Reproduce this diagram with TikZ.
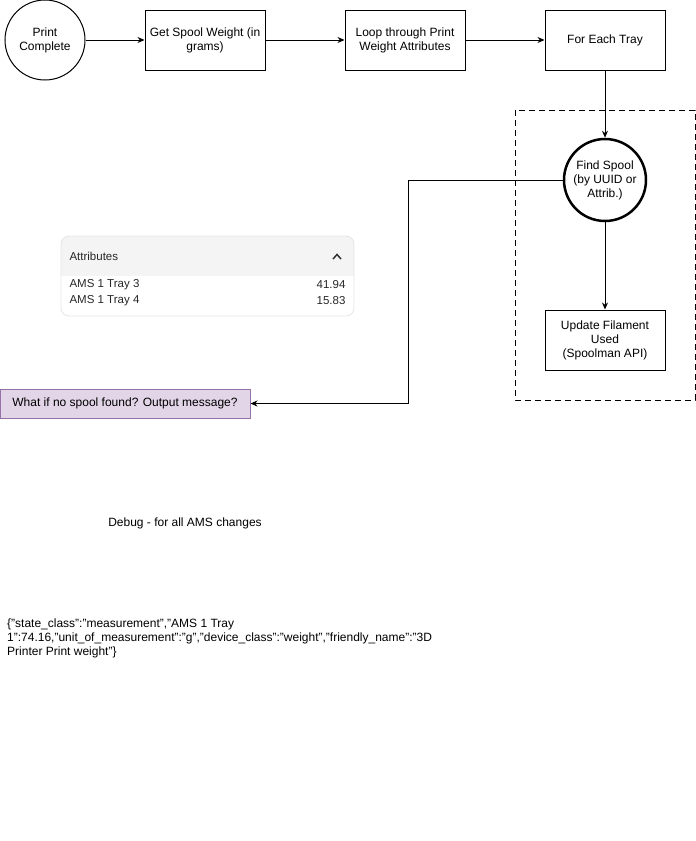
\documentclass[tikz,border=0pt]{standalone}
\usepackage{fontspec}
\setmainfont{Liberation Sans}
\usepackage{tikz}
\usetikzlibrary{arrows.meta, shapes, positioning}
\definecolor{notefill}{HTML}{E1D5E7}
\definecolor{notedraw}{HTML}{9673A6}

\begin{document}
\begin{tikzpicture}[x=1pt, y=-1pt,
	every node/.style={font=\fontsize{12}{14}\selectfont},
	stepbox/.style={draw, line width=1pt, minimum width=120pt, minimum height=60pt, inner sep=0pt, align=center},
	roundstep/.style={draw, circle, line width=1pt, minimum size=80pt, inner sep=0pt, align=center},
	attrtext/.style={font=\fontsize{11.5}{13}\selectfont, text=black!85},
	flow/.style={-{Stealth[length=7pt,width=6pt]}, line width=1pt},
	]
	\useasboundingbox (0,0) rectangle (696,841);
	% top row
	\node[roundstep] (printdone) at (45,40) {Print\\Complete};
	\node[stepbox] (getweight) at (205,40) {Get Spool Weight (in\\grams)};
	\node[stepbox] (looptray) at (405,40) {Loop through Print\\Weight Attributes};
	\node[stepbox] (eachtray) at (605,40) {For Each Tray};
	% per tray group
	\draw[line width=1pt, dash pattern=on 6pt off 4pt] (515,110) rectangle (695,400);
	\node[roundstep, line width=2.5pt, minimum size=82pt] (findspool) at (605,180) {Find Spool\\(by UUID or\\Attrib.)};
	\node[stepbox] (updateused) at (605,340) {Update Filament\\Used\\(Spoolman API)};
	\node[draw=notedraw, fill=notefill, line width=1pt, minimum width=250pt, minimum height=29pt, inner sep=0pt] (nospool) at (125,403.5) {What if no spool found? Output message?};
	\draw[flow] (printdone) -- (getweight);
	\draw[flow] (getweight) -- (looptray);
	\draw[flow] (looptray) -- (eachtray);
	\draw[flow] (eachtray) -- (findspool);
	\draw[flow] (findspool) -- (updateused);
	\draw[flow] (findspool.west) -- (408,180) |- (nospool.east);
	% attributes panel
	\begin{scope}
		\clip[rounded corners=8pt] (61,236) rectangle (354,316);
		\fill[gray!9] (61,236) rectangle (354,276);
	\end{scope}
	\draw[gray!20, line width=0.8pt, rounded corners=8pt] (61,236) rectangle (354,316);
	\node[anchor=west, attrtext] (attrtitle) at (66,256) {Attributes};
	\draw[line width=1.5pt, black!80] (333,259) -- (337,254.5) -- (341,259);
	\node[anchor=west, attrtext] (trayc) at (66,285) {AMS 1 Tray 3};
	\node[anchor=east, attrtext] (weightc) at (349,285) {41.94};
	\node[anchor=west, attrtext] (trayd) at (66,301) {AMS 1 Tray 4};
	\node[anchor=east, attrtext] (weightd) at (349,301) {15.83};
	% debug notes
	\node (debugnote) at (185,523) {Debug - for all AMS changes};
	\node[anchor=north west, align=left, inner sep=0pt] (jsonnote) at (7,619) {\{"state\_class":"measurement","AMS 1 Tray\\1":74.16,"unit\_of\_measurement":"g","device\_class":"weight","friendly\_name":"3D\\Printer Print weight"\}};
\end{tikzpicture}
\end{document}
